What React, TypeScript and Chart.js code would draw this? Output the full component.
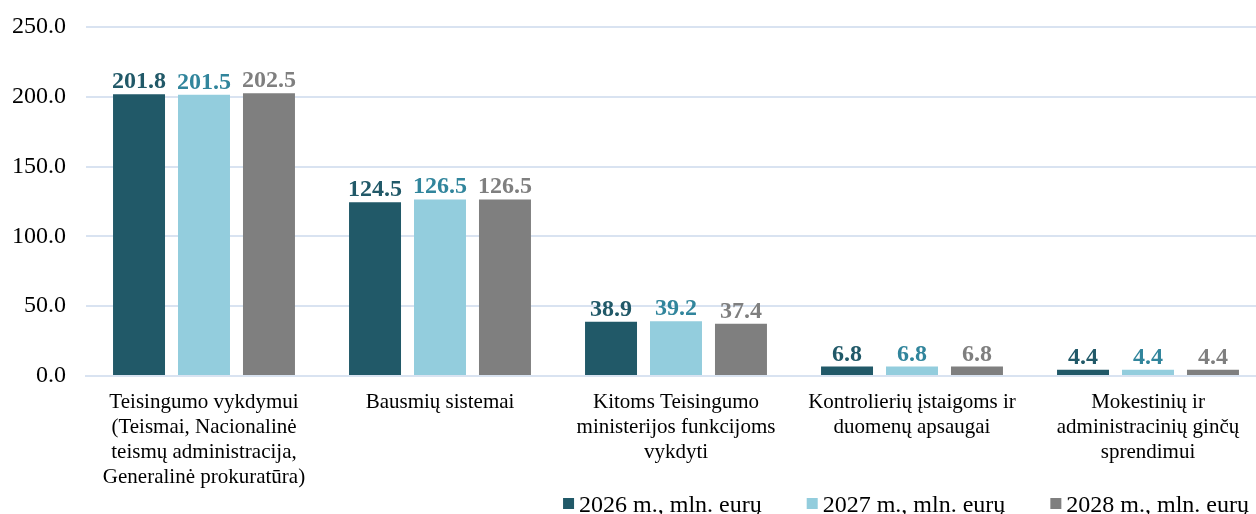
import React, { useEffect, useRef } from "react";
import { Chart, registerables } from "chart.js";

Chart.register(...registerables);

const categories: string[][] = [
  ["Teisingumo vykdymui", "(Teismai, Nacionalinė", "teismų administracija,", "Generalinė prokuratūra)"],
  ["Bausmių sistemai"],
  ["Kitoms Teisingumo", "ministerijos funkcijoms", "vykdyti"],
  ["Kontrolierių įstaigoms ir", "duomenų apsaugai"],
  ["Mokestinių ir", "administracinių ginčų", "sprendimui"],
];

const seriesLabels = ["2026 m., mln. eurų", "2027 m., mln. eurų", "2028 m., mln. eurų"];
const values2026 = [201.8, 124.5, 38.9, 6.8, 4.4];
const values2027 = [201.5, 126.5, 39.2, 6.8, 4.4];
const values2028 = [202.5, 126.5, 37.4, 6.8, 4.4];

const barColors = ["#215968", "#93CDDD", "#7F7F7F"];
const labelColors = ["#215968", "#31859C", "#7F7F7F"];

const FONT = '"Liberation Serif", "Times New Roman", serif';
const GRID = "#D9E3F1";

const valueLabelPlugin = {
  id: "valueLabels",
  afterDatasetsDraw(chart: any) {
    const ctx = chart.ctx;
    ctx.save();
    ctx.font = `bold 24px ${FONT}`;
    ctx.textAlign = "center";
    ctx.textBaseline = "alphabetic";
    chart.data.datasets.forEach((ds: any, di: number) => {
      const meta = chart.getDatasetMeta(di);
      meta.data.forEach((bar: any, i: number) => {
        ctx.fillStyle = labelColors[di];
        ctx.fillText(Number(ds.data[i]).toFixed(1), bar.x, bar.y - 6);
      });
    });
    ctx.restore();
  },
};

const legendPlugin = {
  id: "customLegend",
  afterDraw(chart: any) {
    const ctx = chart.ctx;
    ctx.save();
    ctx.font = `24px ${FONT}`;
    ctx.textBaseline = "alphabetic";
    ctx.textAlign = "left";
    const box = 11;
    const gapBoxText = 5;
    const itemGap = 45;
    const items = chart.data.datasets.map((ds: any) => ({
      text: ds.label,
      color: ds.backgroundColor,
      w: ctx.measureText(ds.label).width,
    }));
    const total = items.reduce((s: number, it: any) => s + box + gapBoxText + it.w, 0) + itemGap * (items.length - 1);
    let x = 1249 - total;
    const baseY = 512;
    items.forEach((it: any) => {
      ctx.fillStyle = it.color;
      ctx.fillRect(x, 498, box, box);
      ctx.fillStyle = "#000000";
      ctx.fillText(it.text, x + box + gapBoxText, baseY);
      x += box + gapBoxText + it.w + itemGap;
    });
    ctx.restore();
  },
};

export default function App() {
  const ref = useRef<HTMLCanvasElement | null>(null);

  useEffect(() => {
    document.body.style.margin = "0";
    if (!ref.current) return;
    const datasets = [values2026, values2027, values2028].map((vals, i) => ({
      label: seriesLabels[i],
      data: vals,
      backgroundColor: barColors[i],
      categoryPercentage: 0.826,
      barPercentage: 0.8,
    }));
    const chart = new Chart(ref.current, {
      type: "bar",
      data: { labels: categories, datasets },
      options: {
        animation: false,
        responsive: true,
        maintainAspectRatio: false,
        layout: { padding: { top: 27, left: 0, right: 0, bottom: 0 } },
        plugins: {
          legend: { display: false },
          tooltip: { enabled: false },
        },
        scales: {
          x: {
            grid: { display: false, drawTicks: false },
            border: { display: true, color: GRID, width: 2 },
            ticks: {
              color: "#000000",
              font: { family: FONT, size: 21, lineHeight: 25 / 21 },
              padding: 14,
              maxRotation: 0,
              autoSkip: false,
            },
            afterFit: (scale: any) => {
              scale.height = 138;
              scale.paddingLeft = 0;
              scale.paddingRight = 0;
            },
          },
          y: {
            min: 0,
            max: 250,
            grid: { color: GRID, lineWidth: 2, drawTicks: false },
            border: { display: false },
            ticks: {
              stepSize: 50,
              color: "#000000",
              padding: 20,
              font: { family: FONT, size: 24 },
              callback: (v: any) => Number(v).toFixed(1),
            },
            afterFit: (scale: any) => {
              scale.width = 86;
              scale.paddingTop = 0;
              scale.paddingBottom = 0;
            },
          },
        },
      },
      plugins: [valueLabelPlugin, legendPlugin],
    });
    return () => chart.destroy();
  }, []);

  return (
    <div style={{ position: "absolute", left: 0, top: 0, width: 1256, height: 514, overflow: "hidden" }}>
      <div style={{ position: "relative", width: 1266, height: 514 }}>
        <canvas ref={ref} />
      </div>
    </div>
  );
}
